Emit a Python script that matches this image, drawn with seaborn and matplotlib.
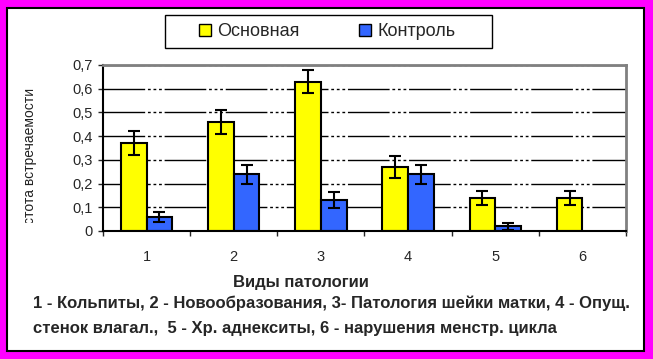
import numpy as np
import pandas as pd
import seaborn as sns
import matplotlib.pyplot as plt
from matplotlib.patches import Rectangle, Patch
from matplotlib.transforms import Bbox, TransformedBbox

# data
categories = ["1", "2", "3", "4", "5", "6"]
groups = ["Основная", "Контроль"]
main_vals = [0.37, 0.46, 0.63, 0.27, 0.14, 0.14]
main_err = [0.05, 0.05, 0.05, 0.045, 0.03, 0.03]
ctrl_vals = [0.06, 0.24, 0.13, 0.24, 0.02, np.nan]
ctrl_err = [0.02, 0.04, 0.035, 0.04, 0.015, np.nan]
yticks = [0, 0.1, 0.2, 0.3, 0.4, 0.5, 0.6, 0.7]
ytick_labels = ["0", "0,1", "0,2", "0,3", "0,4", "0,5", "0,6", "0,7"]
colors = ["#FFFF00", "#3366FF"]

xlabel = "Виды патологии"
ylabel = "Частота встречаемости"
note1 = "1 - Кольпиты, 2 - Новообразования, 3- Патология шейки матки, 4 - Опущ."
note2 = "стенок влагал.,  5 - Хр. аднекситы, 6 - нарушения менстр. цикла"

df = pd.DataFrame({
    "cat": categories * 2,
    "group": [groups[0]] * 6 + [groups[1]] * 6,
    "val": main_vals + ctrl_vals,
    "err": main_err + ctrl_err,
}).dropna()

sns.set_style("white")
plt.rcParams["font.family"] = ["Liberation Sans", "DejaVu Sans"]

W, H = 653, 359
fig = plt.figure(figsize=(W / 100, H / 100), dpi=100)
fig.patch.set_facecolor("#FF00FF")
fig.add_artist(Rectangle((7 / W, 8 / H), 637 / W, 343 / H, transform=fig.transFigure,
                         facecolor="white", edgecolor="black", lw=1.5, zorder=-5))

ax = fig.add_axes([103 / W, 1 - 231 / H, 523 / W, 166 / H])
sns.barplot(data=df, x="cat", y="val", hue="group", order=categories, hue_order=groups,
            palette=colors, saturation=1, width=0.59, edgecolor="black", linewidth=1.5,
            errorbar=None, legend=False, ax=ax)

# error bars on the bar centres
for cont, g in zip(ax.containers, groups):
    sub = df[df["group"] == g]
    for p, v, e in zip(cont.patches, sub["val"], sub["err"]):
        ax.errorbar(p.get_x() + p.get_width() / 2, v, yerr=e, fmt="none",
                    ecolor="black", elinewidth=1.5, capsize=4, capthick=1.5, zorder=5)

ax.set_xlim(-0.5, 5.5)
ax.set_ylim(0, 0.7)
ax.set_yticks(yticks)
ax.set_yticklabels(ytick_labels)
ax.set_xticks(range(len(categories)))
ax.set_xticklabels(categories)
ax.set_xticks(np.arange(-0.5, len(categories), 1), minor=True)
ax.tick_params(axis="y", direction="out", length=3.6, width=1, labelsize=10.5, pad=4, left=True)
ax.tick_params(axis="x", which="major", length=0, pad=14, labelsize=10.5)
ax.tick_params(axis="x", which="minor", direction="out", length=3.6, width=1, bottom=True)
ax.set_xlabel("")
ax.set_ylabel("")

ax.set_axisbelow(True)
ax.yaxis.grid(True, color="black", linewidth=1, linestyle=(0, (30, 2, 2, 2, 2, 2, 2, 2)))
for s in ["top", "right"]:
    ax.spines[s].set_color("#808080")
    ax.spines[s].set_linewidth(2)
for s in ["left", "bottom"]:
    ax.spines[s].set_color("black")
    ax.spines[s].set_linewidth(1.5)

# legend box at the top
fig.add_artist(Rectangle((165 / W, 1 - 48 / H), 327 / W, 33 / H, transform=fig.transFigure,
                         facecolor="none", edgecolor="black", lw=1))
handles = [Patch(facecolor=c, edgecolor="black", lw=1) for c in colors]
fig.legend(handles, groups, loc="center left", bbox_to_anchor=(199 / W, 1 - 31.5 / H),
           ncol=2, frameon=False, fontsize=13, handlelength=0.65, handleheight=0.65,
           handletextpad=0.35, columnspacing=3.3, borderpad=0, borderaxespad=0)

# y label, clipped at the bottom like in the original
t = fig.text(30 / W, 1 - 88 / H, ylabel, rotation=90, ha="center", va="top", fontsize=10,
             color="#222222")
t.set_clip_box(TransformedBbox(Bbox([[0, 1 - 223 / H], [0.2, 1]]), fig.transFigure))
t.set_clip_on(True)

fig.text(301 / W, 1 - 283 / H, xlabel, ha="center", va="center", fontsize=12, fontweight="bold")
fig.text(33 / W, 1 - 303 / H, note1, ha="left", va="center", fontsize=12, fontweight="bold")
fig.text(33 / W, 1 - 328 / H, note2, ha="left", va="center", fontsize=12, fontweight="bold")

fig.savefig("out.png", dpi=100)
